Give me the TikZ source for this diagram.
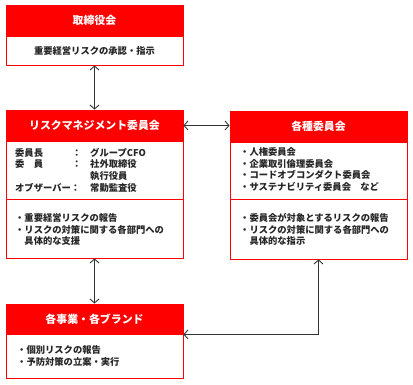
\documentclass[tikz,border=0pt]{standalone}
\usepackage{fontspec}
\setmainfont{Noto Sans CJK JP}
\usetikzlibrary{arrows.meta}
\definecolor{hdr}{HTML}{FF0000}
\tikzset{
  hdrbox/.style={draw=hdr, fill=hdr, line width=0.8pt, minimum width=177pt, inner sep=0pt, text=white, font=\fontsize{10.9}{12}\selectfont\bfseries},
  bodybox/.style={draw=hdr, fill=white, line width=0.8pt, minimum width=177pt, inner sep=0pt},
  txt/.style={anchor=west, inner sep=0pt, font=\fontsize{9.3}{11}\selectfont\bfseries, text=black!85},
  conn/.style={draw=black!80, line width=0.9pt, {Straight Barb[length=4pt,width=9pt]}-{Straight Barb[length=4pt,width=9pt]}}
}
\begin{document}
\begin{tikzpicture}[x=1pt,y=-1pt]
\useasboundingbox (0,0) rectangle (413,385);
% Box 1
\node[hdrbox, minimum height=31pt] (h1) at (94.5,20.5) {取締役会};
\node[bodybox, minimum height=29pt] (b1) at (94.5,50.5) {};
\node[txt, anchor=center] (t1) at (b1.center) {重要経営リスクの承認・指示};
% Box 2
\node[hdrbox, minimum height=31pt] (h2) at (94.5,125.5) {リスクマネジメント委員会};
\node[bodybox, minimum height=58pt] (s2a) at (94.5,170) {};
\node[bodybox, minimum height=59pt] (s2b) at (94.5,228.5) {};
\node[txt] (m1a) at (15,153) {委員長};
\node[txt] (m1b) at (72,153) {：};
\node[txt] (m1c) at (90,153) {グループCFO};
\node[txt] (m2a) at (15,164) {委　員};
\node[txt] (m2b) at (72,164) {：};
\node[txt] (m2c) at (90,164) {社外取締役};
\node[txt] (m3c) at (90,176) {執行役員};
\node[txt] (m4a) at (15,188) {オブザーバー：};
\node[txt] (m4c) at (90,188) {常勤監査役};
\node[txt] (r1) at (15,218) {・重要経営リスクの報告};
\node[txt] (r2) at (15,229.5) {・リスクの対策に関する各部門への};
\node[txt] (r3) at (15,241) {　具体的な支援};
% Box 3
\node[hdrbox, minimum height=31pt] (h3) at (318.5,126.5) {各種委員会};
\node[bodybox, minimum height=57pt] (s3a) at (318.5,170.5) {};
\node[bodybox, minimum height=60pt] (s3b) at (318.5,229) {};
\node[txt] (c1) at (240,152) {・人権委員会};
\node[txt] (c2) at (240,163.5) {・企業取引倫理委員会};
\node[txt] (c3) at (240,175) {・コードオブコンダクト委員会};
\node[txt] (c4) at (240,187) {・サステナビリティ委員会　など};
\node[txt] (d1) at (240,218) {・委員会が対象とするリスクの報告};
\node[txt] (d2) at (240,229.5) {・リスクの対策に関する各部門への};
\node[txt] (d3) at (240,241) {　具体的な指示};
% Box 4
\node[hdrbox, minimum height=30pt] (h4) at (94.5,319) {各事業・各ブランド};
\node[bodybox, minimum height=44pt] (b4) at (94.5,356) {};
\node[txt] (e1) at (17,350) {・個別リスクの報告};
\node[txt] (e2) at (17,362) {・予防対策の立案・実行};
% Connectors
\draw[conn] (b1.south) -- (h2.north);
\draw[conn] (h2.east) -- (h2.east -| h3.west);
\draw[conn] (s2b.south) -- (h4.north);
\draw[conn] (s3b.south) |- (h4.south east);
\end{tikzpicture}
\end{document}
